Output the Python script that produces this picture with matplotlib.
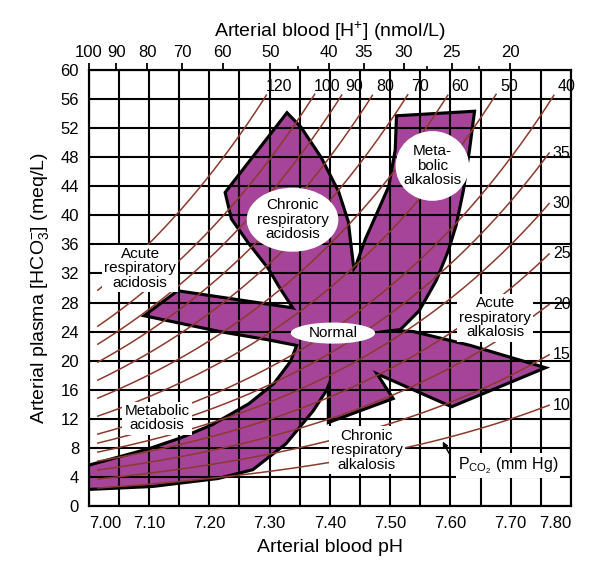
import numpy as np
import matplotlib
matplotlib.use("Agg")
import matplotlib.pyplot as plt
from matplotlib.patches import Polygon, Ellipse

plt.rcParams['font.family'] = ['Liberation Sans', 'DejaVu Sans']
plt.rcParams['mathtext.fontset'] = 'custom'
plt.rcParams['mathtext.rm'] = 'Liberation Sans'
plt.rcParams['mathtext.it'] = 'Liberation Sans:italic'

ph_ticks = [7.00, 7.10, 7.20, 7.30, 7.40, 7.50, 7.60, 7.70, 7.80]
hco3_ticks = list(range(0, 61, 4))
h_ticks = [100, 90, 80, 70, 60, 50, 40, 35, 30, 25, 20]
h_minor = [45, 27.5, 22.5]
pco2_top = [120, 100, 90, 80, 70, 60, 50, 40]
pco2_right = [35, 30, 25, 20, 15, 10]

# zones (pH, HCO3)
chronic_resp_acidosis = [(7.329, 53.8), (7.350, 52.0), (7.383, 47.9), (7.412, 43.2), (7.428, 39.1),
                         (7.433, 35.5), (7.438, 32.1), (7.441, 28.3), (7.433, 24.2), (7.383, 23.5),
                         (7.367, 24.9), (7.342, 27.2), (7.317, 30.4), (7.300, 32.8), (7.267, 36.3),
                         (7.239, 39.6), (7.229, 43.1)]
metabolic_alkalosis = [(7.513, 53.5), (7.637, 54.1), (7.629, 49.0), (7.619, 43.5), (7.607, 38.7),
                       (7.594, 35.2), (7.574, 31.1), (7.546, 27.0), (7.516, 24.5), (7.425, 23.5),
                       (7.417, 28.3), (7.438, 32.1), (7.445, 32.9), (7.461, 36.6), (7.483, 40.7),
                       (7.500, 43.9), (7.511, 49.0)]
acute_resp_acidosis = [(7.098, 26.3), (7.148, 29.4), (7.335, 27.1), (7.400, 26.1), (7.400, 22.6),
                       (7.352, 22.2), (7.297, 23.1), (7.219, 24.2)]
acute_resp_alkalosis = [(7.425, 24.2), (7.538, 23.8), (7.632, 21.9), (7.750, 19.0), (7.602, 13.9),
                        (7.471, 18.7), (7.425, 19.8)]
chronic_resp_alkalosis = [(7.400, 11.8), (7.501, 14.9), (7.471, 18.7), (7.425, 20.8), (7.400, 21.5)]
metabolic_acidosis = [(7.350, 22.6), (7.337, 19.8), (7.309, 16.7), (7.267, 13.9), (7.206, 11.0),
                      (7.151, 9.1), (7.101, 7.7), (7.000, 5.4), (7.000, 2.5), (7.105, 2.9),
                      (7.214, 4.0), (7.271, 5.2), (7.325, 8.7), (7.370, 13.2), (7.392, 16.0),
                      (7.405, 18.7), (7.417, 22.2)]
normal_core = [(7.350, 25.9), (7.458, 25.9), (7.475, 22.2), (7.425, 19.4), (7.352, 22.2)]

PURPLE = '#a6449a'
ISO = '#8c3a2c'

fig = plt.figure(figsize=(5.92, 5.62), dpi=100)
ax = fig.add_axes([0.150, 0.0996, 0.8145, 0.7758])
ax.set_xlim(7.0, 7.8)
ax.set_ylim(0, 60)

zones = [chronic_resp_acidosis, metabolic_alkalosis, acute_resp_acidosis,
         acute_resp_alkalosis, chronic_resp_alkalosis, metabolic_acidosis, normal_core]
# contour noir dessous, remplissage dessus -> seul le bord extérieur reste
for pts in zones:
    ax.add_patch(Polygon(pts, closed=True, fill=False, edgecolor='black', lw=4.5, zorder=1))
for pts in zones:
    ax.add_patch(Polygon(pts, closed=True, facecolor=PURPLE, edgecolor='none', zorder=1.5))

# grille
ax.set_xticks(ph_ticks)
ax.set_xticklabels(['%.2f' % v for v in ph_ticks])
ax.set_xticks(np.arange(7.05, 7.8, 0.1), minor=True)
ax.set_yticks(hco3_ticks)
ax.set_axisbelow(False)
ax.grid(which='both', color='black', lw=1.5, zorder=2.5)
ax.tick_params(which='both', length=0, labelsize=12, pad=7)
labs = ax.get_xticklabels()
labs[0].set_ha('left')
labs[-1].set_ha('right')
for s in ax.spines.values():
    s.set_linewidth(1.5)

# isoplèthes de PCO2 (Henderson-Hasselbalch)
ph_line = np.linspace(7.015, 7.795, 400)
for p in pco2_top + pco2_right:
    hco3 = 0.0301 * p * 10 ** (ph_line - 6.1)
    if p in pco2_right:
        keep = ph_line <= 7.765
    else:
        keep = hco3 <= 56.7
    x, y = ph_line[keep], hco3[keep]
    ax.plot(x, y, color=ISO, lw=1.1, zorder=3)
    if p in pco2_right:
        ax.text(7.770, y[-1], str(p), fontsize=11.5, ha='left', va='center', zorder=6)
    else:
        ax.text(x[-1] + 0.021, 57.8, str(p), fontsize=11.5, ha='center', va='center', zorder=6)

# étiquettes des zones
for (cx, cy, w, h) in [(7.338, 39.4, 0.152, 8.8), (7.570, 46.8, 0.122, 9.6), (7.405, 23.8, 0.140, 2.9)]:
    ax.add_patch(Ellipse((cx, cy), w, h, facecolor='white', edgecolor='none', zorder=5))

kw = dict(fontsize=11, ha='center', va='center', linespacing=1.05, zorder=6)
box = dict(facecolor='white', edgecolor='none', pad=1.5)
ax.text(7.338, 39.4, 'Chronic\nrespiratory\nacidosis', **kw)
ax.text(7.570, 46.8, 'Meta-\nbolic\nalkalosis', **kw)
ax.text(7.405, 23.8, 'Normal', **kw)
ax.text(7.085, 32.7, 'Acute\nrespiratory\nacidosis', bbox=box, **kw)
ax.text(7.674, 25.9, 'Acute\nrespiratory\nalkalosis', bbox=box, **kw)
ax.text(7.113, 12.1, 'Metabolic\nacidosis', bbox=box, **kw)
ax.text(7.461, 7.7, 'Chronic\nrespiratory\nalkalosis', bbox=box, **kw)
ax.text(7.612, 5.6, r'P$_{\mathrm{CO_2}}$ (mm Hg)', fontsize=11.5, ha='left', va='center',
        bbox=box, zorder=6)
ax.annotate('', xy=(7.585, 9.2), xytext=(7.600, 6.9),
            arrowprops=dict(arrowstyle='-|>', color='black', lw=1, mutation_scale=8), zorder=6)

ax.set_xlabel('Arterial blood pH', fontsize=14, labelpad=6)
ax.set_ylabel(r'Arterial plasma [HCO$_3^{-}$] (meq/L)', fontsize=14, labelpad=7)

# axe du haut : [H+]
top = ax.twiny()
top.set_xlim(7.0, 7.8)
top.set_xticks([9 - np.log10(h) for h in h_ticks])
top.set_xticklabels([str(h) for h in h_ticks])
top.set_xticks([9 - np.log10(h) for h in h_minor], minor=True)
top.tick_params(which='major', direction='out', length=5, width=1.3, labelsize=12, pad=2)
top.tick_params(which='minor', direction='out', length=3, width=1.2)
top.set_xlabel('Arterial blood [H$^{+}$] (nmol/L)', fontsize=14, labelpad=6)
for s in top.spines.values():
    s.set_linewidth(1.5)

fig.savefig('out.png', dpi=100)
